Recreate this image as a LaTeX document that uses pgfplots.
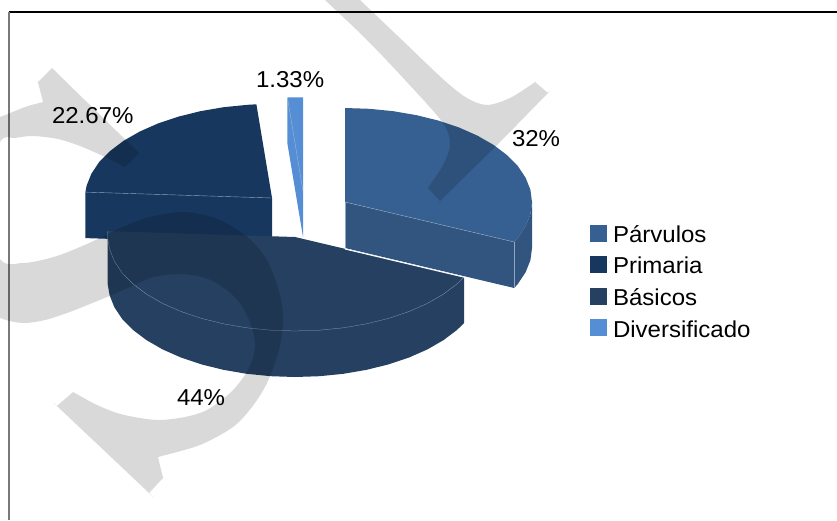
\documentclass[border=0pt]{standalone}
\usepackage{pgfplots}
\pgfplotsset{compat=1.18}
\usepackage{fontspec}
\setmainfont[FakeStretch=1.045]{Liberation Sans}
\definecolor{parv}{HTML}{376092}
\definecolor{parvw}{HTML}{31557F}
\definecolor{prim}{HTML}{17375E}
\definecolor{basi}{HTML}{254061}
\definecolor{dive}{HTML}{558ED5}
\definecolor{edge}{HTML}{93A6BC}
\tikzset{lab/.style={anchor=base west,font=\fontsize{23}{26}\selectfont,text=black,inner sep=0pt,outer sep=0pt}}
\begin{document}
\begin{tikzpicture}
\begin{axis}[width=837pt,height=520pt,scale only axis,xmin=0,xmax=837,ymin=0,ymax=520,y dir=reverse,hide axis,clip=true]
% frame
\addplot[draw=black,line width=1.2pt] coordinates {(9,12) (837,12)};
\addplot[draw=gray!95!black,line width=1.3pt] coordinates {(9,12) (9,520)};
% Primaria
\addplot[fill=prim,draw=none] coordinates {(85.4,192.1)(86.6,185.7)(91.4,173.7)(99.2,162)(110.1,151)(123.6,140.8)(139.8,131.5)(158.2,123.4)(178.5,116.6)(200.4,111.2)(223.6,107.2)(247.6,104.8)(256.4,104.3)(272,198)(272,244)(85.4,238.1)} -- cycle;
\addplot[draw=edge,line width=0.4pt] coordinates {(85.4,192.1)(272,198)};
% Diversificado
\addplot[fill=dive,draw=none] coordinates {(287.4,97.5)(303,97.3)(303,237)(287.4,143.5)} -- cycle;
\addplot[draw=edge!70!white,line width=0.3pt] coordinates {(287.4,97.5)(303,191)};
% Parvulos
\addplot[fill=parv,draw=none] coordinates {(345,202)(345,108)(369.4,108.8)(393.4,111.2)(416.6,115.2)(438.5,120.6)(458.8,127.4)(477.2,135.5)(493.4,144.8)(506.9,155)(517.8,166)(525.6,177.7)(530.4,189.7)(532,202)(530.4,214.3)(525.6,226.3)(517.8,238)(514.2,242)} -- cycle;
\addplot[fill=parvw,draw=none] coordinates {(345,202)(514.2,242)(514.2,288)(345,248)} -- cycle;
\addplot[fill=parvw,draw=none] coordinates {(532,202)(530.4,214.3)(525.6,226.3)(517.8,238)(514.2,242)(514.2,288)(517.8,284)(525.6,272.3)(530.4,260.3)(532,248)} -- cycle;
\addplot[draw=edge,line width=0.4pt] coordinates {(345,202)(514.2,242)};
\addplot[draw=edge,line width=0.2pt] coordinates {(514.2,242)(514.2,288)};
\addplot[draw=edge,line width=0.2pt] coordinates {(345,202)(345,248)};
% Basicos
\addplot[fill=basi,draw=none] coordinates {(295,237)(464.2,277)(464.2,323)(456.9,330)(443.4,340.2)(427.2,349.5)(408.8,357.6)(388.5,364.4)(366.6,369.8)(343.4,373.8)(319.4,376.2)(295,377)(270.6,376.2)(246.6,373.8)(223.4,369.8)(201.5,364.4)(181.2,357.6)(162.8,349.5)(146.6,340.2)(133.1,330)(122.2,319)(114.4,307.3)(109.6,295.3)(107.5,283)(107.5,237)(107.9,231.1)} -- cycle;
\addplot[draw=edge,line width=0.25pt] coordinates {(464.2,277)(456.9,284)(443.4,294.2)(427.2,303.5)(408.8,311.6)(388.5,318.4)(366.6,323.8)(343.4,327.8)(319.4,330.2)(295,331)(270.6,330.2)(246.6,327.8)(223.4,323.8)(201.5,318.4)(181.2,311.6)(162.8,303.5)(146.6,294.2)(133.1,284)(122.2,273)(114.4,261.3)(109.6,249.3)(107.5,237)(107.9,231.1)};
\addplot[draw=white,line width=1pt] coordinates {(345,249)(466,277.6)};
% watermark
\addplot[smooth,tension=0.5,fill=black,fill opacity=0.15,draw=none] coordinates {(339,-20)(360,0)(402,40)(444,80)(467,98)(487,105)(510,98)(533.8,83)(535,82)(536.2,83)(546.8,92)(548,93)(546.8,94.2)(497,145)(441.2,199.8)(440,201)(438.8,199.7)(429.2,189.3)(428,188)(429,186.5)(443,165)(450,145)(443,123)(405,80)(365,38)(325,0)(305,-20)} -- cycle;
\addplot[smooth,tension=0.5,fill=black,fill opacity=0.15,draw=none] coordinates {(53,69)(138,152)(139,153)(138,154)(126,166)(125,167)(123.6,166.3)(103,156)(80,146)(58,139)(33,136)(15,138)(0,142)(-20,200)(0,259)(23,263)(42,260)(60,255)(80,247)(100,238)(125,226)(150,217)(183,212)(215,218)(245,235)(267,260)(280,295)(283,320)(279,350)(267,383)(252,407)(233,427)(200,445)(159.5,456.6)(158,457)(158.3,458.5)(162.7,476.5)(163,478)(162,479)(150,492)(149,493)(148,492)(58,407)(57,406)(58,405)(72,393)(73,392)(74.5,392.8)(95,404)(117,413)(140,418)(160,420)(185,417)(207,410)(230,393)(245,375)(253,358)(255,342)(250,322)(240,303)(228,291)(213,281)(198,276)(182,274)(165,275)(150,278)(130,287)(107,297)(85,306)(67,313)(45,320)(23,323)(0,318)(-40,300)(-60,200)(-40,130)(0,117)(25,107)(41.5,102.4)(43,102)(42.7,100.5)(38.3,83.5)(38,82)(39,81)(51,69)(52,68)} -- cycle;
% legend swatches
\addplot[fill=parv,draw=none] coordinates {(590,225)(607,225)(607,242)(590,242)} -- cycle;
\addplot[fill=prim,draw=none] coordinates {(590,256)(607,256)(607,273)(590,273)} -- cycle;
\addplot[fill=basi,draw=none] coordinates {(590,288)(607,288)(607,305)(590,305)} -- cycle;
\addplot[fill=dive,draw=none] coordinates {(590,319)(607,319)(607,336)(590,336)} -- cycle;
% texts
\node[lab] at (axis cs:613,242) {Párvulos};
\node[lab] at (axis cs:613,273.5) {Primaria};
\node[lab] at (axis cs:613,305.5) {Básicos};
\node[lab] at (axis cs:613,337) {Diversificado};
\node[lab] at (axis cs:512,146) {32\%};
\node[lab] at (axis cs:256,87) {1.33\%};
\node[lab] at (axis cs:52,123) {22.67\%};
\node[lab] at (axis cs:177,405) {44\%};
\end{axis}
\end{tikzpicture}
\end{document}
